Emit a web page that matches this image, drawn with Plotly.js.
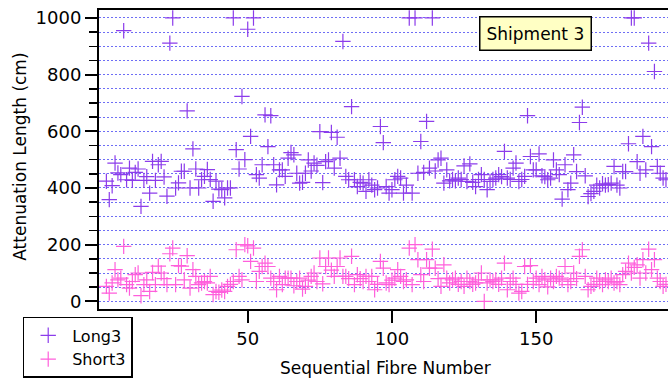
<!DOCTYPE html>
<html>
<head>
<meta charset="utf-8">
<script src="https://cdn.plot.ly/plotly-3.0.1.min.js"></script>
<style>html,body{margin:0;padding:0;background:#fff;}#chart{width:668px;height:380px;}</style>
</head>
<body>
<div id="chart"></div>
<script>
const fibreNumbers = [];
for (let i = 1; i <= 195; i++) fibreNumbers.push(i);

const long3 = [
424,359,408,488,453,447,955,429,470,427,
455,467,335,427,440,382,494,427,482,494,
439,371,911,1000,400,418,459,459,672,400,
538,467,400,429,441,465,430,353,424,396,
394,365,400,400,1000,535,467,723,500,960,
582,1000,447,435,482,658,546,655,482,411,
464,464,441,505,525,517,452,417,420,452,
499,460,488,480,599,419,493,499,596,470,
579,505,917,441,429,687,429,405,420,417,
388,429,410,394,400,617,560,405,382,394,
429,441,435,382,410,1000,382,1000,452,564,
455,635,470,1000,460,499,505,417,464,425,
430,425,435,430,478,423,485,420,405,430,
447,430,394,423,430,435,447,440,529,435,
430,470,488,423,430,441,655,511,464,464,
520,443,440,429,435,499,464,447,361,482,
394,417,517,458,631,685,443,370,380,388,
410,400,415,410,412,417,476,410,400,458,
458,556,1000,1000,493,452,582,464,911,546,
811,476,452,435,429
];

const short3 = [
53,29,65,112,76,82,194,59,47,70,
94,100,20,59,76,35,102,59,124,100,
80,59,168,188,59,126,124,76,161,47,
112,88,59,65,70,65,88,24,35,32,
40,35,53,60,70,182,88,76,200,196,
141,188,70,106,123,135,123,82,70,41,
88,59,82,82,82,55,70,82,43,53,
75,88,100,70,153,62,123,153,110,88,
123,153,88,88,80,159,59,94,80,70,
88,70,88,41,60,141,117,65,59,75,
82,112,88,70,76,188,59,200,147,94,
70,147,117,184,117,80,53,129,82,65,
76,82,60,70,53,82,70,60,65,76,
100,0,65,76,70,76,60,82,135,41,
70,82,60,29,35,123,60,126,70,82,
59,88,76,51,82,70,88,82,76,123,
59,70,100,80,159,182,88,41,53,60,
82,70,59,76,70,82,65,70,59,94,
106,135,100,120,129,82,147,100,184,112,
147,82,70,53,60
];

const seriesNames = ["Long3", "Short3"];
const xTickVals = [50, 100, 150];
const yTickVals = [0, 200, 400, 600, 800, 1000];
const xTitle = "Sequential Fibre Number";
const yTitle = "Attenuation Length (cm)";
const boxLabel = "Shipment 3";

const fontFam = "DejaVu Sans, Verdana, sans-serif";
const gridCol = "rgb(110,110,245)";
const gridDash = "2px,2px";

const traces = [
  {
    x: fibreNumbers, y: long3, name: seriesNames[0],
    type: "scatter", mode: "markers",
    marker: {symbol: "cross-thin", size: 11, line: {width: 1.2, color: "rgb(140,60,235)"}, color: "rgb(140,60,235)"}
  },
  {
    x: fibreNumbers, y: short3, name: seriesNames[1],
    type: "scatter", mode: "markers",
    marker: {symbol: "cross-thin", size: 11, line: {width: 1.2, color: "rgb(255,95,220)"}, color: "rgb(255,95,220)"}
  }
];

const layout = {
  width: 668, height: 380,
  margin: {l: 99, r: 0, t: 10, b: 71, pad: 0, autoexpand: false},
  paper_bgcolor: "#fff", plot_bgcolor: "#fff",
  font: {family: fontFam, color: "#000", size: 16},
  showlegend: true,
  legend: {
    xref: "container", yref: "container",
    x: 0.034, y: 0.166, xanchor: "left", yanchor: "top",
    bordercolor: "#000", borderwidth: 1.5, bgcolor: "#fff",
    font: {family: fontFam, size: 16, color: "#000"},
    tracegroupgap: 0, itemwidth: 38
  },
  xaxis: {
    automargin: false,
    range: [-1.56, 195.7],
    tickmode: "array", tickvals: xTickVals,
    ticks: "outside", ticklen: 12, tickwidth: 2, tickcolor: "#000",
    showline: true, linecolor: "#000", linewidth: 2, mirror: true,
    showgrid: false, zeroline: false,
    tickfont: {size: 18, family: fontFam}
  },
  yaxis: {
    automargin: false,
    range: [-27, 1028],
    tickmode: "array", tickvals: yTickVals,
    ticks: "outside", ticklen: 12, tickwidth: 2, tickcolor: "#000",
    showline: true, linecolor: "#000", linewidth: 2, mirror: false,
    showgrid: true, gridcolor: gridCol, griddash: gridDash, gridwidth: 1,
    zeroline: false,
    minor: {dtick: 50, tick0: 0, ticks: "outside", ticklen: 8, tickwidth: 1.5, tickcolor: "#000",
            showgrid: true, gridcolor: gridCol, griddash: gridDash, gridwidth: 1},
    tickfont: {size: 18, family: fontFam}
  },
  annotations: [
    {
      xref: "paper", yref: "paper", x: 0.768, y: 0.923,
      xanchor: "center", yanchor: "middle",
      text: boxLabel, showarrow: false,
      font: {size: 17, family: fontFam, color: "#000"},
      bgcolor: "#ffffc4", bordercolor: "#000", borderwidth: 1.5, borderpad: 6
    },
    {
      xref: "paper", yref: "paper", x: 0.504, y: -0.196,
      xanchor: "center", yanchor: "middle",
      text: xTitle, showarrow: false,
      font: {size: 17, family: fontFam, color: "#000"}
    },
    {
      xref: "paper", yref: "paper", x: -0.139, y: 0.509,
      xanchor: "center", yanchor: "middle", textangle: -90,
      text: yTitle, showarrow: false,
      font: {size: 17, family: fontFam, color: "#000"}
    }
  ]
};

Plotly.newPlot("chart", traces, layout, {displayModeBar: false, staticPlot: true});
</script>
</body>
</html>
